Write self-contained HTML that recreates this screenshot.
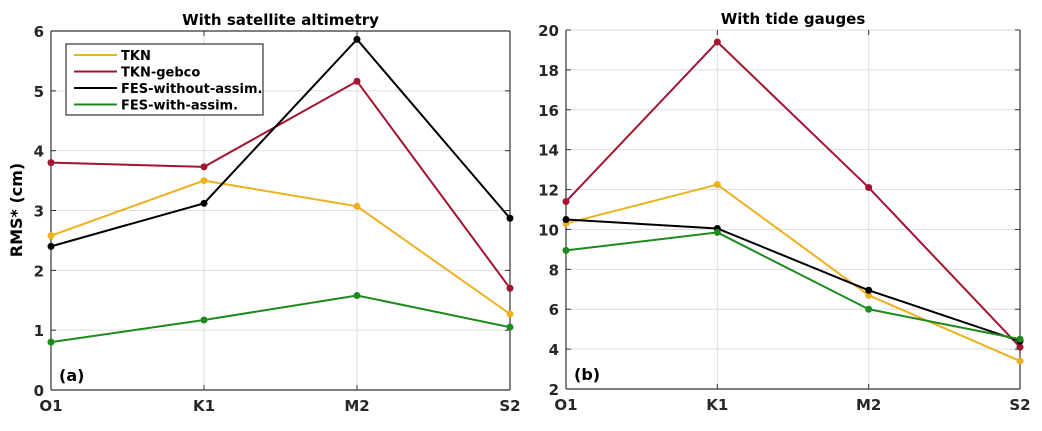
<!DOCTYPE html>
<html><head><meta charset="utf-8"><style>
body{margin:0;background:#fff;}
svg{font-family:"DejaVu Sans","Liberation Sans",sans-serif;font-weight:bold;}
</style></head><body>
<svg id="c" width="1042" height="426" xmlns="http://www.w3.org/2000/svg"></svg>
<script>
const categories=["O1","K1","M2","S2"];
const seriesNames=["TKN","TKN-gebco","FES-without-assim.","FES-with-assim."];
const colors=["#EDB120","#A2142F","#000000","#1E8A1E"];
const satTKN=[2.58,3.5,3.07,1.27];
const satGebco=[3.8,3.73,5.16,1.7];
const satFESwo=[2.4,3.12,5.86,2.87];
const satFESw=[0.8,1.17,1.58,1.05];
const tgTKN=[10.3,12.25,6.7,3.4];
const tgGebco=[11.4,19.4,12.1,4.1];
const tgFESwo=[10.5,10.05,6.95,4.4];
const tgFESw=[8.95,9.85,6.0,4.5];
const satTicks=[0,1,2,3,4,5,6];
const tgTicks=[2,4,6,8,10,12,14,16,18,20];
const NS="http://www.w3.org/2000/svg";
const svg=document.getElementById('c');
function mk(t,a,p){const e=document.createElementNS(NS,t);for(const k in a)e.setAttribute(k,a[k]);(p||svg).appendChild(e);return e;}
function panel(o){
  const g=mk('g',{});
  
  
  const xs=i=>o.x0+(o.x1-o.x0)*i/(categories.length-1);
  const ys=v=>o.yb-(o.yb-o.yt)*(v-o.ticks[0])/(o.ticks[o.ticks.length-1]-o.ticks[0]);
  o.ticks.forEach(t=>{
    const y=ys(t);
    mk('line',{x1:o.x0,x2:o.x1,y1:y,y2:y,stroke:'#dedede','stroke-width':1},g);
    mk('line',{x1:o.x0,x2:o.x0+5,y1:y,y2:y,stroke:'#333'},g);
    mk('line',{x1:o.x1-5,x2:o.x1,y1:y,y2:y,stroke:'#333'},g);
    const tx=mk('text',{x:o.x0-7,y:y+6,'text-anchor':'end','font-size':15,fill:'#262626'},g);
    tx.textContent=t;
    
    
  });
  categories.forEach((c,i)=>{
    const x=xs(i);
    mk('line',{x1:x,x2:x,y1:o.yt,y2:o.yb,stroke:'#dedede'},g);
    mk('line',{x1:x,x2:x,y1:o.yb,y2:o.yb-5,stroke:'#333'},g);
    mk('line',{x1:x,x2:x,y1:o.yt,y2:o.yt+5,stroke:'#333'},g);
    const tx=mk('text',{x:x,y:o.yb+21,'text-anchor':'middle','font-size':15,fill:'#262626'},g);
    tx.textContent=c;
    
    
  });
  mk('line',{x1:o.x0,x2:o.x0,y1:o.yt,y2:o.yb,stroke:'#333','stroke-width':1.2},g);
  mk('line',{x1:o.x1,x2:o.x1,y1:o.yt,y2:o.yb,stroke:'#333','stroke-width':1.2},g);
  mk('line',{x1:o.x0,x2:o.x1,y1:o.yb,y2:o.yb,stroke:'#333','stroke-width':1.2},g);
  if(o.top) mk('line',{x1:o.x0,x2:o.x1,y1:o.yt,y2:o.yt,stroke:'#333','stroke-width':1.2},g);
  o.series.forEach((s,k)=>{
    const pl=mk('polyline',{points:s.map((v,i)=>xs(i)+','+ys(v)).join(' '),fill:'none',stroke:colors[k],'stroke-width':2},g);
    
    
    s.forEach((v,i)=>{
      const c=mk('circle',{cx:xs(i),cy:ys(v),r:3.5,fill:colors[k]},g);
      
      
    });
  });
  const ti=mk('text',{x:(o.x0+o.x1)/2,y:o.yt-6,'text-anchor':'middle','font-size':15,fill:'#000'},g);
  ti.textContent=o.title;
  
  
  const lb=mk('text',{x:o.x0+8,y:o.yb-9,'font-size':16,fill:'#000'},g);
  lb.textContent=o.label;
  
  
  return g;
}
panel({name:'panel-satellite',x0:51,x1:510,yt:31,yb:390,ticks:satTicks,top:true,series:[satTKN,satGebco,satFESwo,satFESw],title:'With satellite altimetry',label:'(a)'});
panel({name:'panel-tide-gauges',x0:566,x1:1020,yt:30,yb:389,ticks:tgTicks,top:false,series:[tgTKN,tgGebco,tgFESwo,tgFESw],title:'With tide gauges',label:'(b)'});
const yt=mk('text',{transform:'translate(22,210) rotate(-90)','text-anchor':'middle','font-size':16,fill:'#000'});
yt.textContent='RMS* (cm)';


const lg=mk('g',{});


mk('rect',{x:66,y:44,width:197,height:71,fill:'#fff',stroke:'#333','stroke-width':1.2},lg);
seriesNames.forEach((n,k)=>{
  const y=55+k*16.5;
  mk('line',{x1:74,x2:117,y1:y,y2:y,stroke:colors[k],'stroke-width':2},lg);
  const t=mk('text',{x:121,y:y+5,'font-size':13,fill:'#000'},lg);
  t.textContent=n;
  
  
});
</script>
</body></html>
